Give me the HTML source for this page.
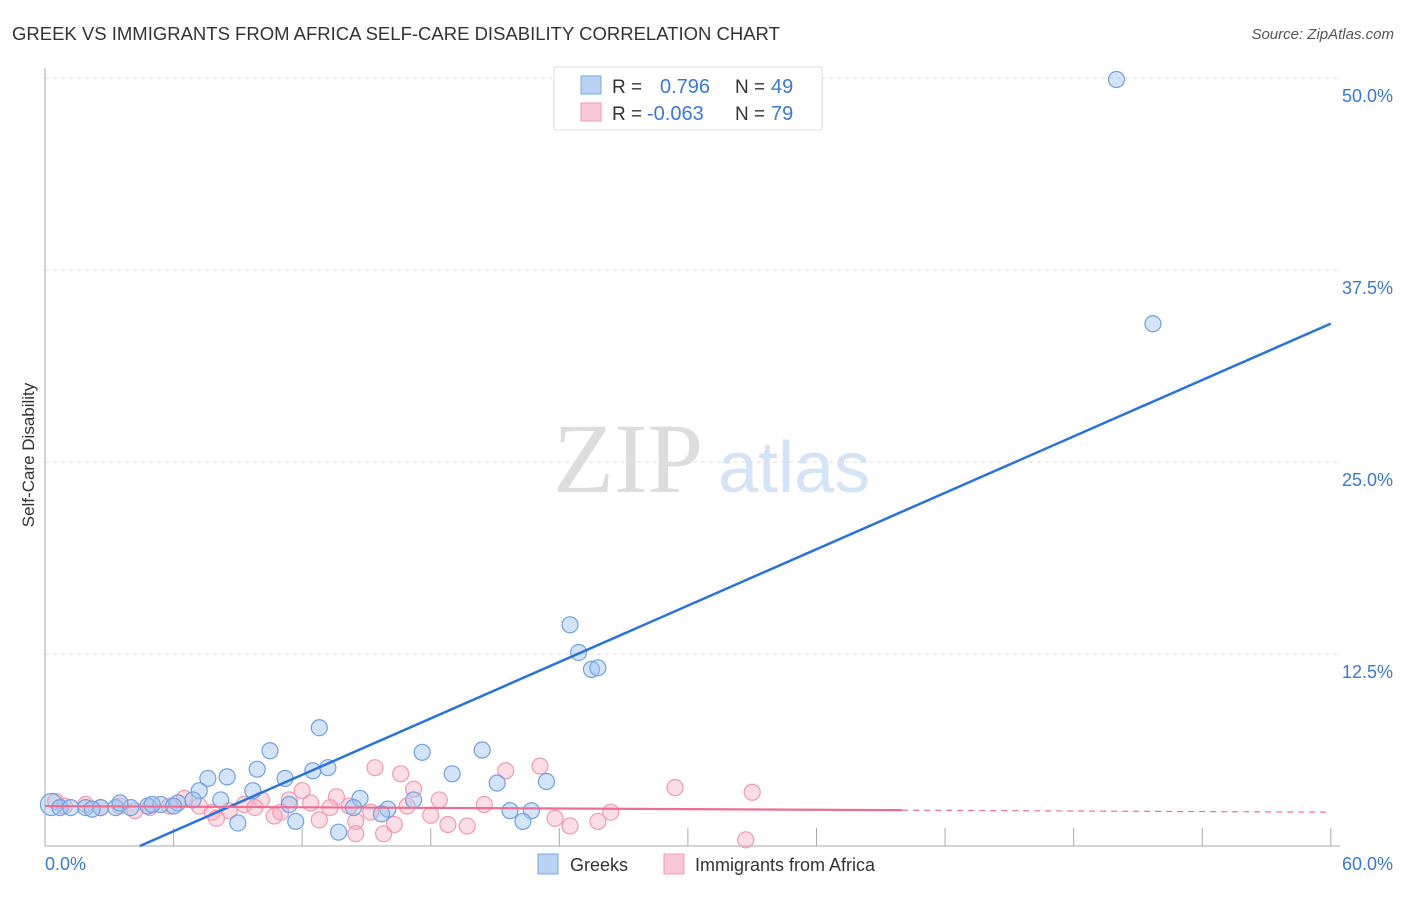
<!DOCTYPE html>
<html><head><meta charset="utf-8"><style>
body{margin:0;background:#fff;font-family:"Liberation Sans",sans-serif}
svg text{font-family:"Liberation Sans",sans-serif}
</style></head><body>
<svg width="1406" height="892" xmlns="http://www.w3.org/2000/svg">
<text x="12" y="40" font-size="18.5" fill="#333">GREEK VS IMMIGRANTS FROM AFRICA SELF-CARE DISABILITY CORRELATION CHART</text>
<text x="1394" y="39" font-size="15" fill="#555" text-anchor="end" font-style="italic">Source: ZipAtlas.com</text>
<g>
<text x="553" y="492" font-size="100" font-family="Liberation Serif" fill="#ddd" style="font-family:'Liberation Serif',serif">ZIP</text>
<text x="718" y="492" font-size="72" fill="#d4e3f5">atlas</text></g>
<g id="grid"></g>
<g id="axes"></g>
<g id="pts"></g>
<g id="lines"></g>
<text transform="translate(34,455) rotate(-90)" font-size="17" fill="#333" text-anchor="middle">Self-Care Disability</text>
<g>
<rect x="554" y="67" width="268" height="63" fill="#fff" stroke="#ddd"/>
<rect x="581" y="76" width="20" height="18" fill="#b9d3f5" stroke="#7aa6e0"/>
<rect x="581" y="103" width="20" height="18" fill="#f9c8d6" stroke="#f09ab2"/>
<text x="612" y="93" font-size="19" fill="#333">R =</text>
<text x="660" y="93" font-size="20" fill="#3a78d4">0.796</text>
<text x="735" y="93" font-size="19" fill="#333">N =</text>
<text x="771" y="93" font-size="20" fill="#3a78d4">49</text>
<text x="612" y="120" font-size="19" fill="#333">R =</text>
<text x="647" y="120" font-size="20" fill="#3a78d4">-0.063</text>
<text x="735" y="120" font-size="19" fill="#333">N =</text>
<text x="771" y="120" font-size="20" fill="#3a78d4">79</text>
</g>
<g>
<rect x="538" y="854" width="20" height="20" fill="#b9d3f5" stroke="#7aa6e0"/>
<text x="570" y="871" font-size="18" fill="#333">Greeks</text>
<rect x="664" y="854" width="20" height="20" fill="#f9c8d6" stroke="#f09ab2"/>
<text x="695" y="871" font-size="18" fill="#333">Immigrants from Africa</text>
</g>
</svg>
<script>
const yTicks=[12.5,25,37.5,50];
const yTickLabels=["12.5%","25.0%","37.5%","50.0%"];
const xTickLabels=["0.0%","60.0%"];
const blueX=[50.0,51.7,24.5,24.9,25.5,25.8,12.8,10.5,17.6,20.4,9.9,12.5,13.2,19.0,8.5,7.6,11.2,21.1,23.4,9.7,7.2,14.7,8.2,17.2,11.4,14.4,16.0,21.7,22.7,9.0,11.7,22.3,15.7,13.7,0.3,0.7,1.2,1.9,2.6,3.3,4.0,4.8,5.4,6.2,6.9,3.5,5.0,6.0,2.2];
const blueY=[49.9,34.0,14.4,12.6,11.5,11.6,7.7,6.2,6.1,6.25,5.0,4.9,5.1,4.7,4.5,4.4,4.4,4.1,4.2,3.6,3.6,3.1,3.0,3.0,2.7,2.5,2.4,2.3,2.3,1.5,1.6,1.6,2.1,0.9,2.7,2.5,2.5,2.5,2.5,2.5,2.5,2.6,2.7,2.8,3.0,2.8,2.7,2.6,2.4];
const pinkX=[15.4,23.1,21.5,16.6,29.4,33.0,17.2,12.0,13.6,10.1,11.4,12.4,14.2,16.9,20.5,26.4,18.0,10.7,12.8,14.5,16.3,18.8,19.7,23.8,25.8,24.5,14.5,15.8,32.7,15.2,9.3,8.6,7.8,7.2,6.5,5.8,4.9,4.2,3.5,2.6,1.9,0.9,0.5,11.0,13.3,9.8,18.4,8.0];
const pinkY=[5.1,5.2,4.9,4.7,3.8,3.5,3.7,3.6,3.2,3.0,3.0,2.8,2.6,2.6,2.7,2.2,2.0,1.95,1.7,1.6,1.4,1.4,1.3,1.8,1.6,1.3,0.8,0.8,0.4,2.2,2.7,2.3,2.2,2.6,3.1,2.6,2.5,2.3,2.6,2.5,2.7,2.6,2.9,2.2,2.5,2.5,3.0,1.8];
const blueTrend=[0.612,-2.71];
const pinkTrend=[2.6,2.2];
const X=v=>45+v*21.43, Y=v=>846-v*15.36;
const NS="http://www.w3.org/2000/svg";
function mk(p,t,a){const e=document.createElementNS(NS,t);for(const k in a)e.setAttribute(k,a[k]);document.getElementById(p).appendChild(e);return e;}
yTicks.forEach((t,i)=>{
 const l=mk('grid','line',{x1:45,x2:1340,y1:Y(t),y2:Y(t),stroke:'#ddd','stroke-dasharray':'4,4'});
 
 
 const tx=mk('grid','text',{x:1393,y:Y(t)+24,'font-size':18,fill:'#3a78d4','text-anchor':'end'});tx.textContent=yTickLabels[i];
 
 
});
mk('axes','line',{x1:45,x2:45,y1:68,y2:846,stroke:'#aaa'});
mk('axes','line',{x1:45,x2:1340,y1:846,y2:846,stroke:'#aaa'});
for(let i=1;i<=10;i++){const x=X(i*6);mk('axes','line',{x1:x,x2:x,y1:828,y2:846,stroke:'#aaa'});}
let t0=mk('axes','text',{x:45,y:870,'font-size':18,fill:'#3a78d4'});t0.textContent=xTickLabels[0];


let t1=mk('axes','text',{x:1393,y:870,'font-size':18,fill:'#3a78d4','text-anchor':'end'});t1.textContent=xTickLabels[1];


pinkX.forEach((v,i)=>{const c=mk('pts','circle',{cx:X(v),cy:Y(pinkY[i]),r:8,fill:'rgba(245,165,188,0.38)',stroke:'#f09ab2','stroke-width':1.2});
 
 });
blueX.forEach((v,i)=>{const c=mk('pts','circle',{cx:X(v),cy:Y(blueY[i]),r:i==34?11:8,fill:'rgba(160,195,240,0.45)',stroke:'#6fa0e0','stroke-width':1.2});
 
 });
const x0=-blueTrend[1]/blueTrend[0];
const bl=mk('lines','line',{x1:X(x0),y1:Y(0),x2:X(60),y2:Y(blueTrend[0]*60+blueTrend[1]),stroke:'#2a72d8','stroke-width':2.5});


const pv=x=>pinkTrend[0]+(pinkTrend[1]-pinkTrend[0])*x/60;
const p1=mk('lines','line',{x1:X(0),y1:Y(pv(0)),x2:X(40),y2:Y(pv(40)),stroke:'#ec6f93','stroke-width':2.2});


const p2=mk('lines','line',{x1:X(40),y1:Y(pv(40)),x2:X(60),y2:Y(pv(60)),stroke:'#ec6f93','stroke-width':1.2,'stroke-dasharray':'6,5'});


</script>
</body></html>
